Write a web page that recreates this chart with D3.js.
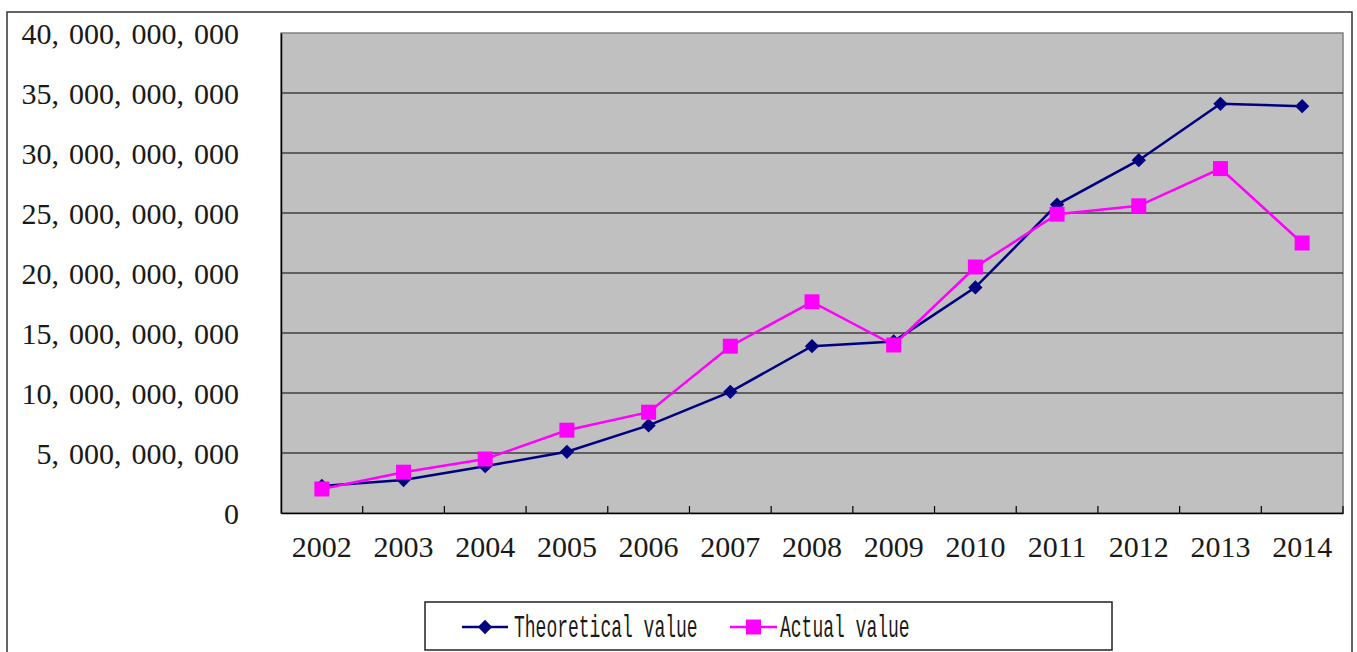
<!DOCTYPE html>
<html>
<head>
<meta charset="utf-8">
<script src="https://cdn.jsdelivr.net/npm/d3@7"></script>
<style>
  html, body { margin: 0; padding: 0; background: #fff; }
  svg { display: block; }
</style>
</head>
<body>
<svg id="chart" width="1357" height="652"></svg>
<script>
const years = ["2002","2003","2004","2005","2006","2007","2008","2009","2010","2011","2012","2013","2014"];
const theoretical = [2.25e9, 2.75e9, 3.9e9, 5.1e9, 7.3e9, 10.1e9, 13.9e9, 14.3e9, 18.8e9, 25.7e9, 29.4e9, 34.1e9, 33.9e9];
const actual = [2.0e9, 3.4e9, 4.5e9, 6.9e9, 8.4e9, 13.9e9, 17.6e9, 14.0e9, 20.5e9, 24.9e9, 25.6e9, 28.7e9, 22.5e9];
const yTicks = [0, 5e9, 10e9, 15e9, 20e9, 25e9, 30e9, 35e9, 40e9];
const seriesNames = ["Theoretical value", "Actual value"];

const svg = d3.select("#chart");
const L = 281, R = 1343, T = 33, B = 513;

// outer border
svg.append("rect").attr("x", 7).attr("y", 12).attr("width", 1345).attr("height", 660)
  .attr("fill", "#fff").attr("stroke", "#333").attr("stroke-width", 1.5);

const x = d3.scaleBand().domain(years).range([L, R]).padding(0);
const y = d3.scaleLinear().domain([0, 40e9]).range([B, T]);

// plot area
svg.append("rect").attr("x", L).attr("y", T).attr("width", R - L).attr("height", B - T)
  .attr("fill", "#C0C0C0").attr("stroke", "#808080").attr("stroke-width", 1.5);

// gridlines
svg.append("g").selectAll("line").data(yTicks.filter(d => d > 0 && d < 40e9)).join("line")
  .attr("x1", L).attr("x2", R).attr("y1", d => y(d)).attr("y2", d => y(d))
  .attr("stroke", "#000").attr("stroke-width", 1.2);

// y axis
const fmt = d => d3.format(",")(d).replace(/,/g, ",\u200A ");
const yAxis = svg.append("g").attr("transform", `translate(${L},0)`)
  .call(d3.axisLeft(y).tickValues(yTicks).tickSize(0).tickPadding(42).tickFormat(fmt));
yAxis.select(".domain").attr("stroke", "#000").attr("stroke-width", 1.5);
yAxis.selectAll("text").attr("font-family", "'Liberation Serif', serif").attr("font-size", 30)
  .attr("fill", "#1a1a1a").attr("dy", "0.36em").style("white-space", "pre");

// x axis
const xAxis = svg.append("g").attr("transform", `translate(0,${B})`)
  .call(d3.axisBottom(x).tickSize(0).tickPadding(24));
xAxis.select(".domain").attr("stroke", "#000").attr("stroke-width", 1.5);
xAxis.selectAll("text").attr("font-family", "'Liberation Serif', serif").attr("font-size", 30)
  .attr("fill", "#1a1a1a").attr("dy", "0.68em");
// tick marks at band boundaries
svg.append("g").selectAll("line").data(years.slice(1)).join("line")
  .attr("x1", d => x(d)).attr("x2", d => x(d)).attr("y1", B).attr("y2", B - 7)
  .attr("stroke", "#000").attr("stroke-width", 1.2);
svg.append("line").attr("x1", R).attr("x2", R).attr("y1", B).attr("y2", B - 7)
  .attr("stroke", "#000").attr("stroke-width", 1.2);

const cx = d => x(d) + x.bandwidth() / 2;
const line = d3.line().x(d => cx(d.year)).y(d => y(d.v));

const tData = years.map((yr, i) => ({ year: yr, v: theoretical[i] }));
const aData = years.map((yr, i) => ({ year: yr, v: actual[i] }));

svg.append("path").datum(tData).attr("d", line).attr("fill", "none")
  .attr("stroke", "#000080").attr("stroke-width", 2.5);
svg.append("g").selectAll("path").data(tData).join("path")
  .attr("d", d3.symbol(d3.symbolDiamond2, 130)).attr("transform", d => `translate(${cx(d.year)},${y(d.v)})`)
  .attr("fill", "#000080");

svg.append("path").datum(aData).attr("d", line).attr("fill", "none")
  .attr("stroke", "#FF00FF").attr("stroke-width", 2.5);
svg.append("g").selectAll("rect").data(aData).join("rect")
  .attr("x", d => cx(d.year) - 7.5).attr("y", d => y(d.v) - 7.5).attr("width", 15).attr("height", 15)
  .attr("fill", "#FF00FF");

// legend
const lg = svg.append("g");
lg.append("rect").attr("x", 425).attr("y", 602).attr("width", 687).attr("height", 48)
  .attr("fill", "#fff").attr("stroke", "#222").attr("stroke-width", 1.5);
const items = [
  { name: seriesNames[0], color: "#000080", x0: 462, x1: 508, tx: 514, sym: "diamond" },
  { name: seriesNames[1], color: "#FF00FF", x0: 730, x1: 777, tx: 780, sym: "square" }
];
const sx = 10.8 / (32 * 0.6);
items.forEach(it => {
  lg.append("line").attr("x1", it.x0).attr("x2", it.x1).attr("y1", 627).attr("y2", 627)
    .attr("stroke", it.color).attr("stroke-width", 2.5);
  const mx = (it.x0 + it.x1) / 2;
  if (it.sym === "diamond") {
    lg.append("path").attr("d", d3.symbol(d3.symbolDiamond2, 130)).attr("transform", `translate(${mx},627)`)
      .attr("fill", it.color);
  } else {
    lg.append("rect").attr("x", mx - 7.5).attr("y", 619.5).attr("width", 15).attr("height", 15).attr("fill", it.color);
  }
  lg.append("text").attr("transform", `translate(${it.tx},637) scale(${sx},1)`).text(it.name)
    .attr("font-family", "'Liberation Mono', monospace").attr("font-size", 32)
    .attr("fill", "#1a1a1a");
});
</script>
</body>
</html>
